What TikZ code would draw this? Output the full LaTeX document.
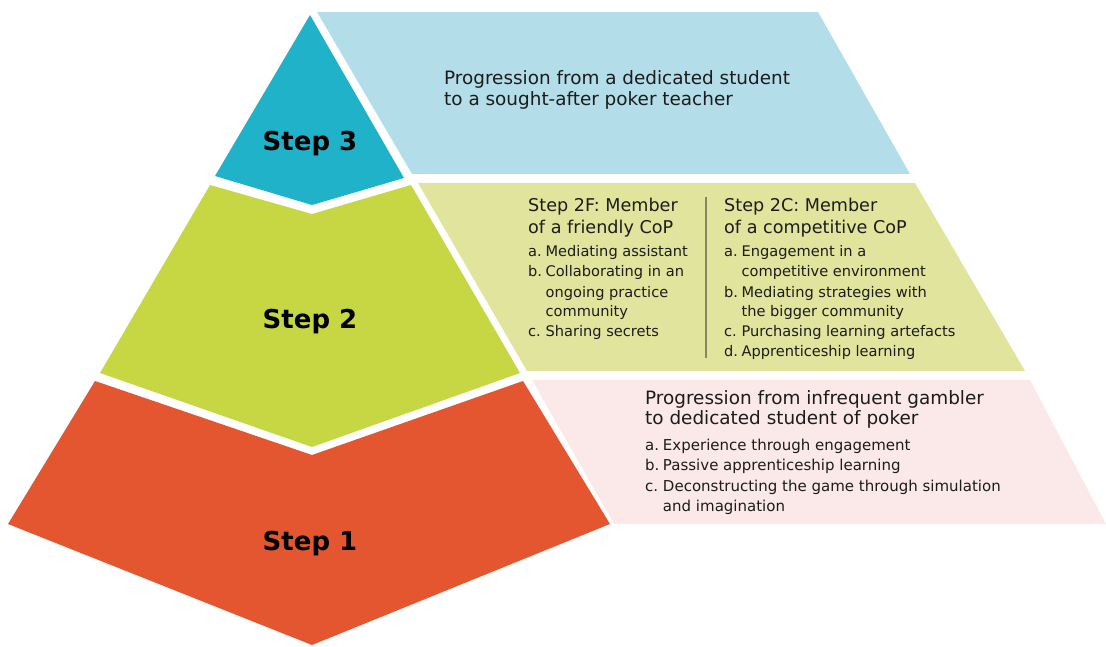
\documentclass[tikz,border=0pt]{standalone}
\usepackage{fontspec}
\setmainfont{DejaVu Sans}
\definecolor{teal3}{HTML}{1FB2C8}
\definecolor{blue3}{HTML}{B3DDE8}
\definecolor{green2}{HTML}{C7D743}
\definecolor{lgreen2}{HTML}{E0E49C}
\definecolor{red1}{HTML}{E4562F}
\definecolor{pink1}{HTML}{FBE8E8}
\definecolor{txtc}{HTML}{1C1C1C}
\definecolor{divc}{HTML}{86866E}
\begin{document}
\begin{tikzpicture}[x=1pt,y=-1pt,
  steplbl/.style={anchor=base, inner sep=0, text=black, font=\fontsize{26}{30}\selectfont\bfseries},
  txt/.style={anchor=base west, inner sep=0, text=txtc},
  bighead/.style={txt, font=\fontsize{18.4}{21}\selectfont},
  midhead/.style={txt, font=\fontsize{17.6}{22}\selectfont},
  items/.style={txt, font=\fontsize{14.6}{20}\selectfont},
  pitems/.style={txt, font=\fontsize{15}{20.5}\selectfont},
  divider/.style={draw=divc, line width=1.1pt}]
\useasboundingbox (0,0) rectangle (1106,647);
% pyramid levels
\fill[teal3] (310,15) -- (215,176) -- (312,205) -- (404,178) -- cycle;
\fill[green2] (210,185) -- (312,214) -- (411,185) -- (520,373) -- (312,447) -- (100,373) -- cycle;
\fill[red1] (95,381) -- (312,455) -- (523,381) -- (610,524) -- (312,645) -- (8,524) -- cycle;
% side panels
\fill[blue3] (317,12) -- (818,12) -- (910,174) -- (412,174) -- cycle;
\fill[lgreen2] (418,183) -- (915,183) -- (1025,371) -- (527,371) -- cycle;
\fill[pink1] (532,380) -- (1030,380) -- (1106,524) -- (614,524) -- cycle;
% step labels
\node[steplbl] (s3) at (310,151) {Step 3};
\node[steplbl] (s2) at (310,328) {Step 2};
\node[steplbl] (s1) at (310,550) {Step 1};
% step 3 text
\node[bighead] (h3) at (444,85) {\begin{tabular}[t]{@{}l@{}}Progression from a dedicated student\\to a sought-after poker teacher\end{tabular}};
% step 2 texts
\node[midhead] (h2f) at (528,212) {\begin{tabular}[t]{@{}l@{}}Step 2F: Member\\of a friendly CoP\end{tabular}};
\node[items] (i2f) at (528,257) {\begin{tabular}[t]{@{}l@{\hspace{3.5pt}}l@{}}a.&Mediating assistant\\b.&Collaborating in an\\&ongoing practice\\&community\\c.&Sharing secrets\end{tabular}};
\coordinate (dtop) at (706,197);
\coordinate (dbot) at (706,358);
\draw[divider] (dtop) -- (dbot);
\node[midhead] (h2c) at (724,212) {\begin{tabular}[t]{@{}l@{}}Step 2C: Member\\of a competitive CoP\end{tabular}};
\node[items] (i2c) at (724,257) {\begin{tabular}[t]{@{}l@{\hspace{3.5pt}}l@{}}a.&Engagement in a\\&competitive environment\\b.&Mediating strategies with\\&the bigger community\\c.&Purchasing learning artefacts\\d.&Apprenticeship learning\end{tabular}};
% step 1 texts
\node[txt, font=\fontsize{18.4}{20}\selectfont] (h1) at (645,404) {\begin{tabular}[t]{@{}l@{}}Progression from infrequent gambler\\to dedicated student of poker\end{tabular}};
\node[pitems] (i1) at (645,450) {\begin{tabular}[t]{@{}l@{\hspace{3.5pt}}l@{}}a.&Experience through engagement\\b.&Passive apprenticeship learning\\c.&Deconstructing the game through simulation\\&and imagination\end{tabular}};
\end{tikzpicture}
\end{document}
